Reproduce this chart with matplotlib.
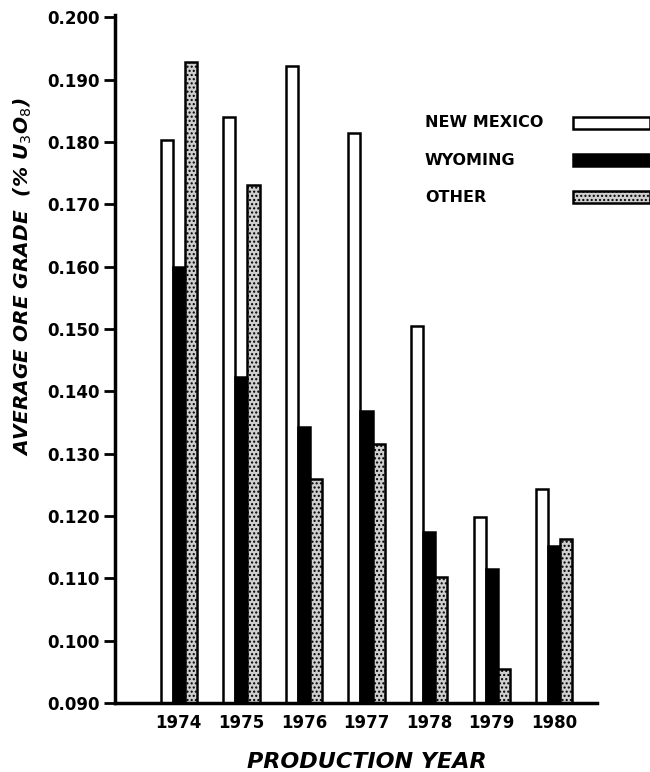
import matplotlib
matplotlib.use("Agg")
import matplotlib.pyplot as plt
from matplotlib.patches import Rectangle
import numpy as np

years = ["1974", "1975", "1976", "1977", "1978", "1979", "1980"]
new_mexico = [0.1804, 0.1841, 0.1922, 0.1815, 0.1505, 0.1199, 0.1243]
wyoming = [0.1600, 0.1423, 0.1343, 0.1369, 0.1174, 0.1115, 0.1152]
other = [0.1929, 0.1731, 0.1260, 0.1316, 0.1102, 0.0955, 0.1163]
y_ticks = [0.090, 0.100, 0.110, 0.120, 0.130, 0.140, 0.150, 0.160, 0.170, 0.180, 0.190, 0.200]

plt.rcParams["hatch.linewidth"] = 1.0

fig = plt.figure(figsize=(6.5, 7.72), dpi=100)
ax = fig.add_axes([0.177, 0.0894, 0.741, 0.8912])

x = np.arange(len(years))
w = 0.193
base = 0.090

styles = [
    ("NEW MEXICO", new_mexico, dict(facecolor="white")),
    ("WYOMING", wyoming, dict(facecolor="black")),
    ("OTHER", other, dict(facecolor="#cfcfcf", hatch="....")),
]

for i, (name, vals, st) in enumerate(styles):
    ax.bar(x + (i - 1) * w, np.array(vals) - base, w, bottom=base,
           edgecolor="black", linewidth=1.8, **st)

ax.set_xlim(-1.02, 6.68)
ax.set_ylim(0.090, 0.2004)
ax.set_xticks(x)
ax.set_xticklabels(years, fontsize=12, fontweight="bold")
ax.set_yticks(y_ticks)
ax.set_yticklabels([f"{v:.3f}" for v in y_ticks], fontsize=12, fontweight="bold")
ax.tick_params(axis="x", length=0, pad=8)
ax.tick_params(axis="y", length=8, width=2, pad=3)

for s in ["top", "right"]:
    ax.spines[s].set_visible(False)
for s in ["left", "bottom"]:
    ax.spines[s].set_linewidth(2.5)

ax.set_ylabel(r"AVERAGE ORE GRADE  (% U$_3$O$_8$)", fontsize=14.5,
              fontweight="bold", fontstyle="italic")
ax.yaxis.set_label_coords(-0.168, 0.62)
ax.set_xlabel("PRODUCTION YEAR", fontsize=16, fontweight="bold",
              fontstyle="italic", va="center")
ax.xaxis.set_label_coords(0.523, -0.086)

# legend drawn by hand: label on the left, long swatch running off the edge
leg_y = [0.843, 0.789, 0.735]
for (name, vals, st), ly in zip(styles, leg_y):
    ax.text(0.643, ly, name, transform=ax.transAxes, fontsize=11.5,
            fontweight="bold", va="center", ha="left")
    ax.add_patch(Rectangle((0.950, ly - 0.0087), 0.16, 0.0174,
                           transform=ax.transAxes, clip_on=False,
                           edgecolor="black", linewidth=1.8, **st))

fig.savefig("out.png", dpi=100)
